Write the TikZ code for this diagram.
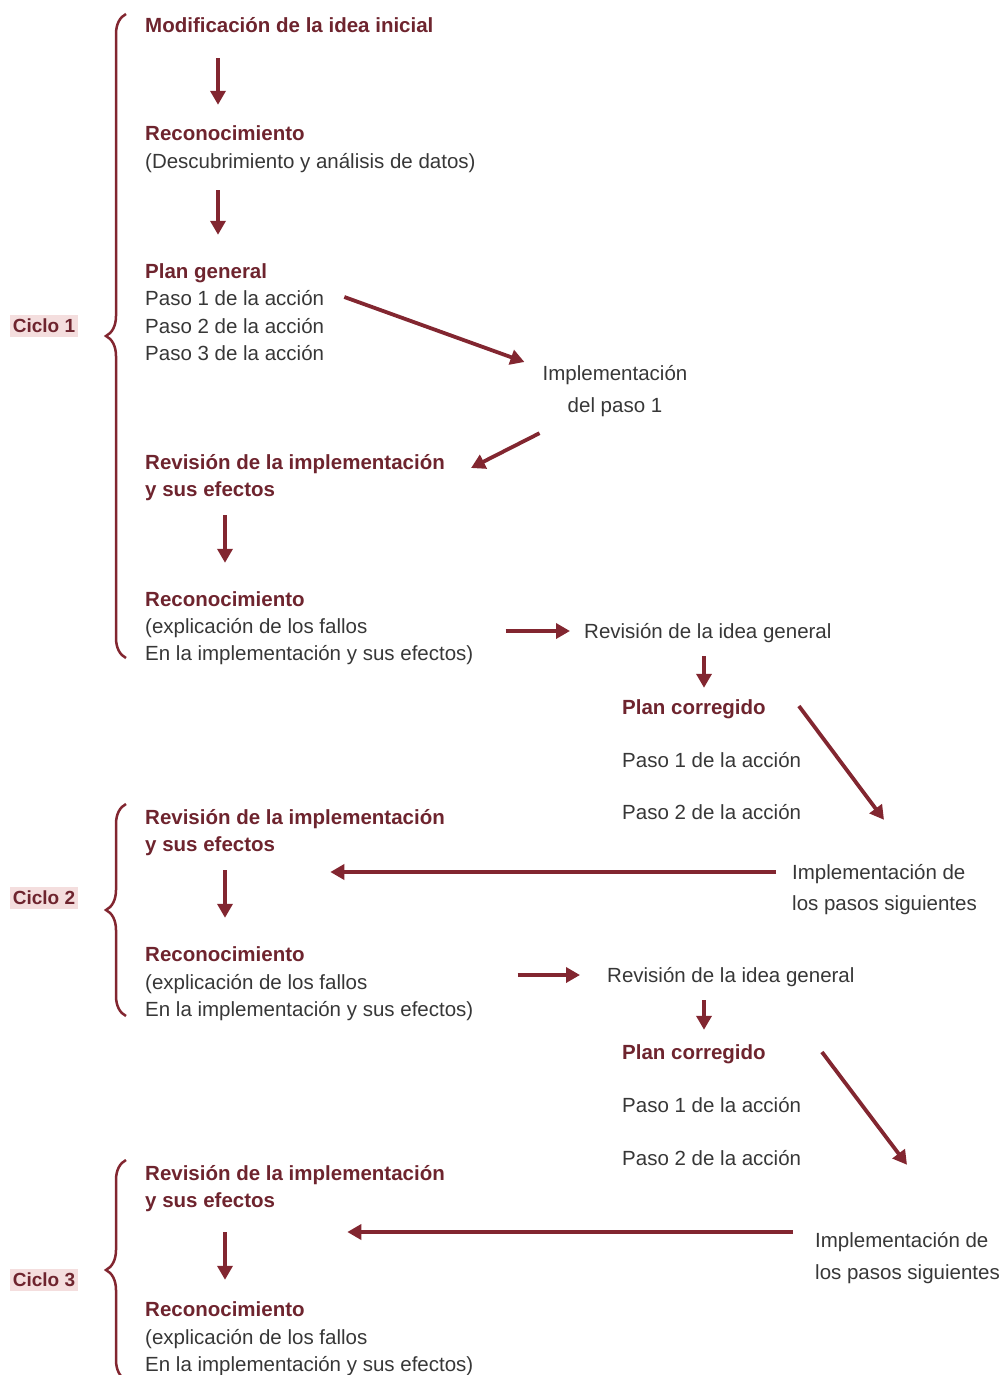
\documentclass[tikz,border=0pt]{standalone}
\usepackage{fontspec}
\setmainfont{Liberation Sans}
\usepackage{tikz}
\usetikzlibrary{calc}
\usetikzlibrary{arrows.meta}
\usetikzlibrary{decorations.pathreplacing}

\definecolor{titlered}{RGB}{110,36,46}
\definecolor{txtgray}{RGB}{55,55,55}
\definecolor{arrowred}{RGB}{130,38,48}
\definecolor{cyclepink}{RGB}{244,222,222}

\begin{document}
\begin{tikzpicture}[x=1pt, y=-1pt,
        txt/.style={anchor=west, inner sep=0pt, text height=15pt, text depth=5pt, yshift=-2pt, text=txtgray, font=\fontsize{20.5}{27}\selectfont},
        ttl/.style={txt, text=titlered, font=\fontsize{20.5}{27}\selectfont\bfseries},
        ctr/.style={txt, anchor=center},
        arr/.style={draw=arrowred, line width=3.8pt, -{Triangle[length=14pt,width=15pt]}},
        cyc/.style={fill=cyclepink, text=titlered, inner xsep=3pt, inner ysep=4pt, font=\fontsize{19}{24}\selectfont\bfseries},
        brc/.style={draw=arrowred, line width=2.5pt, decorate, decoration={brace, amplitude=20pt}}]
        \useasboundingbox (0,0) rectangle (1005,1375);

        % cycle 1
        \node (mod) at (145,26) [ttl] {Modificación de la idea inicial};
        \node (rec1) at (145,134) [ttl] {Reconocimiento};
        \node (desc) at (145,162) [txt] {(Descubrimiento y análisis de datos)};
        \node (plan) at (145,271) [ttl] {Plan general};
        \node (paso1) at (145,298) [txt] {Paso 1 de la acción};
        \node (paso2) at (145,326) [txt] {Paso 2 de la acción};
        \node (paso3) at (145,353) [txt] {Paso 3 de la acción};
        \node (impl1a) at (615,373) [ctr] {Implementación};
        \node (impl1b) at (615,405) [ctr] {del paso 1};
        \node (rev1) at (145,462) [ttl] {Revisión de la implementación};
        \node (efe1) at (145,489) [ttl] {y sus efectos};
        \node (rec2) at (145,599) [ttl] {Reconocimiento};
        \node (expl1) at (145,626) [txt] {(explicación de los fallos};
        \node (eni1) at (145,653) [txt] {En la implementación y sus efectos)};
        \node (ridea1) at (584,631) [txt] {Revisión de la idea general};
        \node (pc1) at (622,707) [ttl] {Plan corregido};
        \node (pc1a) at (622,760) [txt] {Paso 1 de la acción};
        \node (pc1b) at (622,812) [txt] {Paso 2 de la acción};
        \node (impl2a) at (792,872) [txt] {Implementación de};
        \node (impl2b) at (792,903) [txt] {los pasos siguientes};

        \draw[arr] ($(mod.south west)+(73,20)$) -- ($(rec1.north west)+(73,-21)$);
        \draw[arr] ($(desc.south west)+(73,16)$) -- ($(plan.north west)+(73,-28)$);
        \draw[arr] ($(paso1.east)+(20,-3)$) -- ($(impl1a.west)+(-18,-13)$);
        \draw[arr] ($(impl1b.south west)+(-28,16)$) -- ($(rev1.east)+(26,4)$);
        \draw[arr] ($(efe1.south west)+(80,14)$) -- ($(rec2.north west)+(80,-28)$);
        \draw[arr] ($(eni1.east)+(32,-24)$) -- ($(ridea1.west)+(-14,-2)$);
        \draw[arr] ($(ridea1.south west)+(120,13)$) -- ($(pc1.north west)+(82,-11)$);
        \draw[arr] ($(pc1.east)+(33,-3)$) -- ($(impl2a.north west)+(92,-44)$);

        % cycle 2
        \node (rev2) at (145,817) [ttl] {Revisión de la implementación};
        \node (efe2) at (145,844) [ttl] {y sus efectos};
        \node (rec3) at (145,954) [ttl] {Reconocimiento};
        \node (expl2) at (145,982) [txt] {(explicación de los fallos};
        \node (eni2) at (145,1009) [txt] {En la implementación y sus efectos)};
        \node (ridea2) at (607,975) [txt] {Revisión de la idea general};
        \node (pc2) at (622,1052) [ttl] {Plan corregido};
        \node (pc2a) at (622,1105) [txt] {Paso 1 de la acción};
        \node (pc2b) at (622,1158) [txt] {Paso 2 de la acción};
        \node (impl3a) at (815,1240) [txt] {Implementación de};
        \node (impl3b) at (815,1272) [txt] {los pasos siguientes};

        \draw[arr] ($(impl2a.west)+(-16,-2)$) -- ($(efe2.east)+(55,26)$);
        \draw[arr] ($(efe2.south west)+(80,14)$) -- ($(rec3.north west)+(80,-28)$);
        \draw[arr] ($(eni2.east)+(44,-36)$) -- ($(ridea2.west)+(-27,-2)$);
        \draw[arr] ($(ridea2.south west)+(97,13)$) -- ($(pc2.north west)+(82,-14)$);
        \draw[arr] ($(pc2.east)+(56,-2)$) -- ($(impl3a.north west)+(92,-67)$);

        % cycle 3
        \node (rev3) at (145,1173) [ttl] {Revisión de la implementación};
        \node (efe3) at (145,1200) [ttl] {y sus efectos};
        \node (rec4) at (145,1309) [ttl] {Reconocimiento};
        \node (expl3) at (145,1337) [txt] {(explicación de los fallos};
        \node (eni3) at (145,1364) [txt] {En la implementación y sus efectos)};

        \draw[arr] ($(impl3a.west)+(-22,-10)$) -- ($(efe3.east)+(72,30)$);
        \draw[arr] ($(efe3.south west)+(80,20)$) -- ($(rec4.north west)+(80,-21)$);

        % braces and cycle labels
        \node (c1) at (44,326) [cyc] {Ciclo 1};
        \node (c2) at (44,898) [cyc] {Ciclo 2};
        \node (c3) at (44,1280) [cyc] {Ciclo 3};
        \coordinate (c1top) at (126,14);
        \coordinate (c1bot) at (126,658);
        \coordinate (c2top) at (126,804);
        \coordinate (c2bot) at (126,1016);
        \coordinate (c3top) at (126,1160);
        \coordinate (c3bot) at (126,1380);
        \draw[brc] (c1bot) -- (c1top);
        \draw[brc] (c2bot) -- (c2top);
        \draw[brc] (c3bot) -- (c3top);
    \end{tikzpicture}
\end{document}
